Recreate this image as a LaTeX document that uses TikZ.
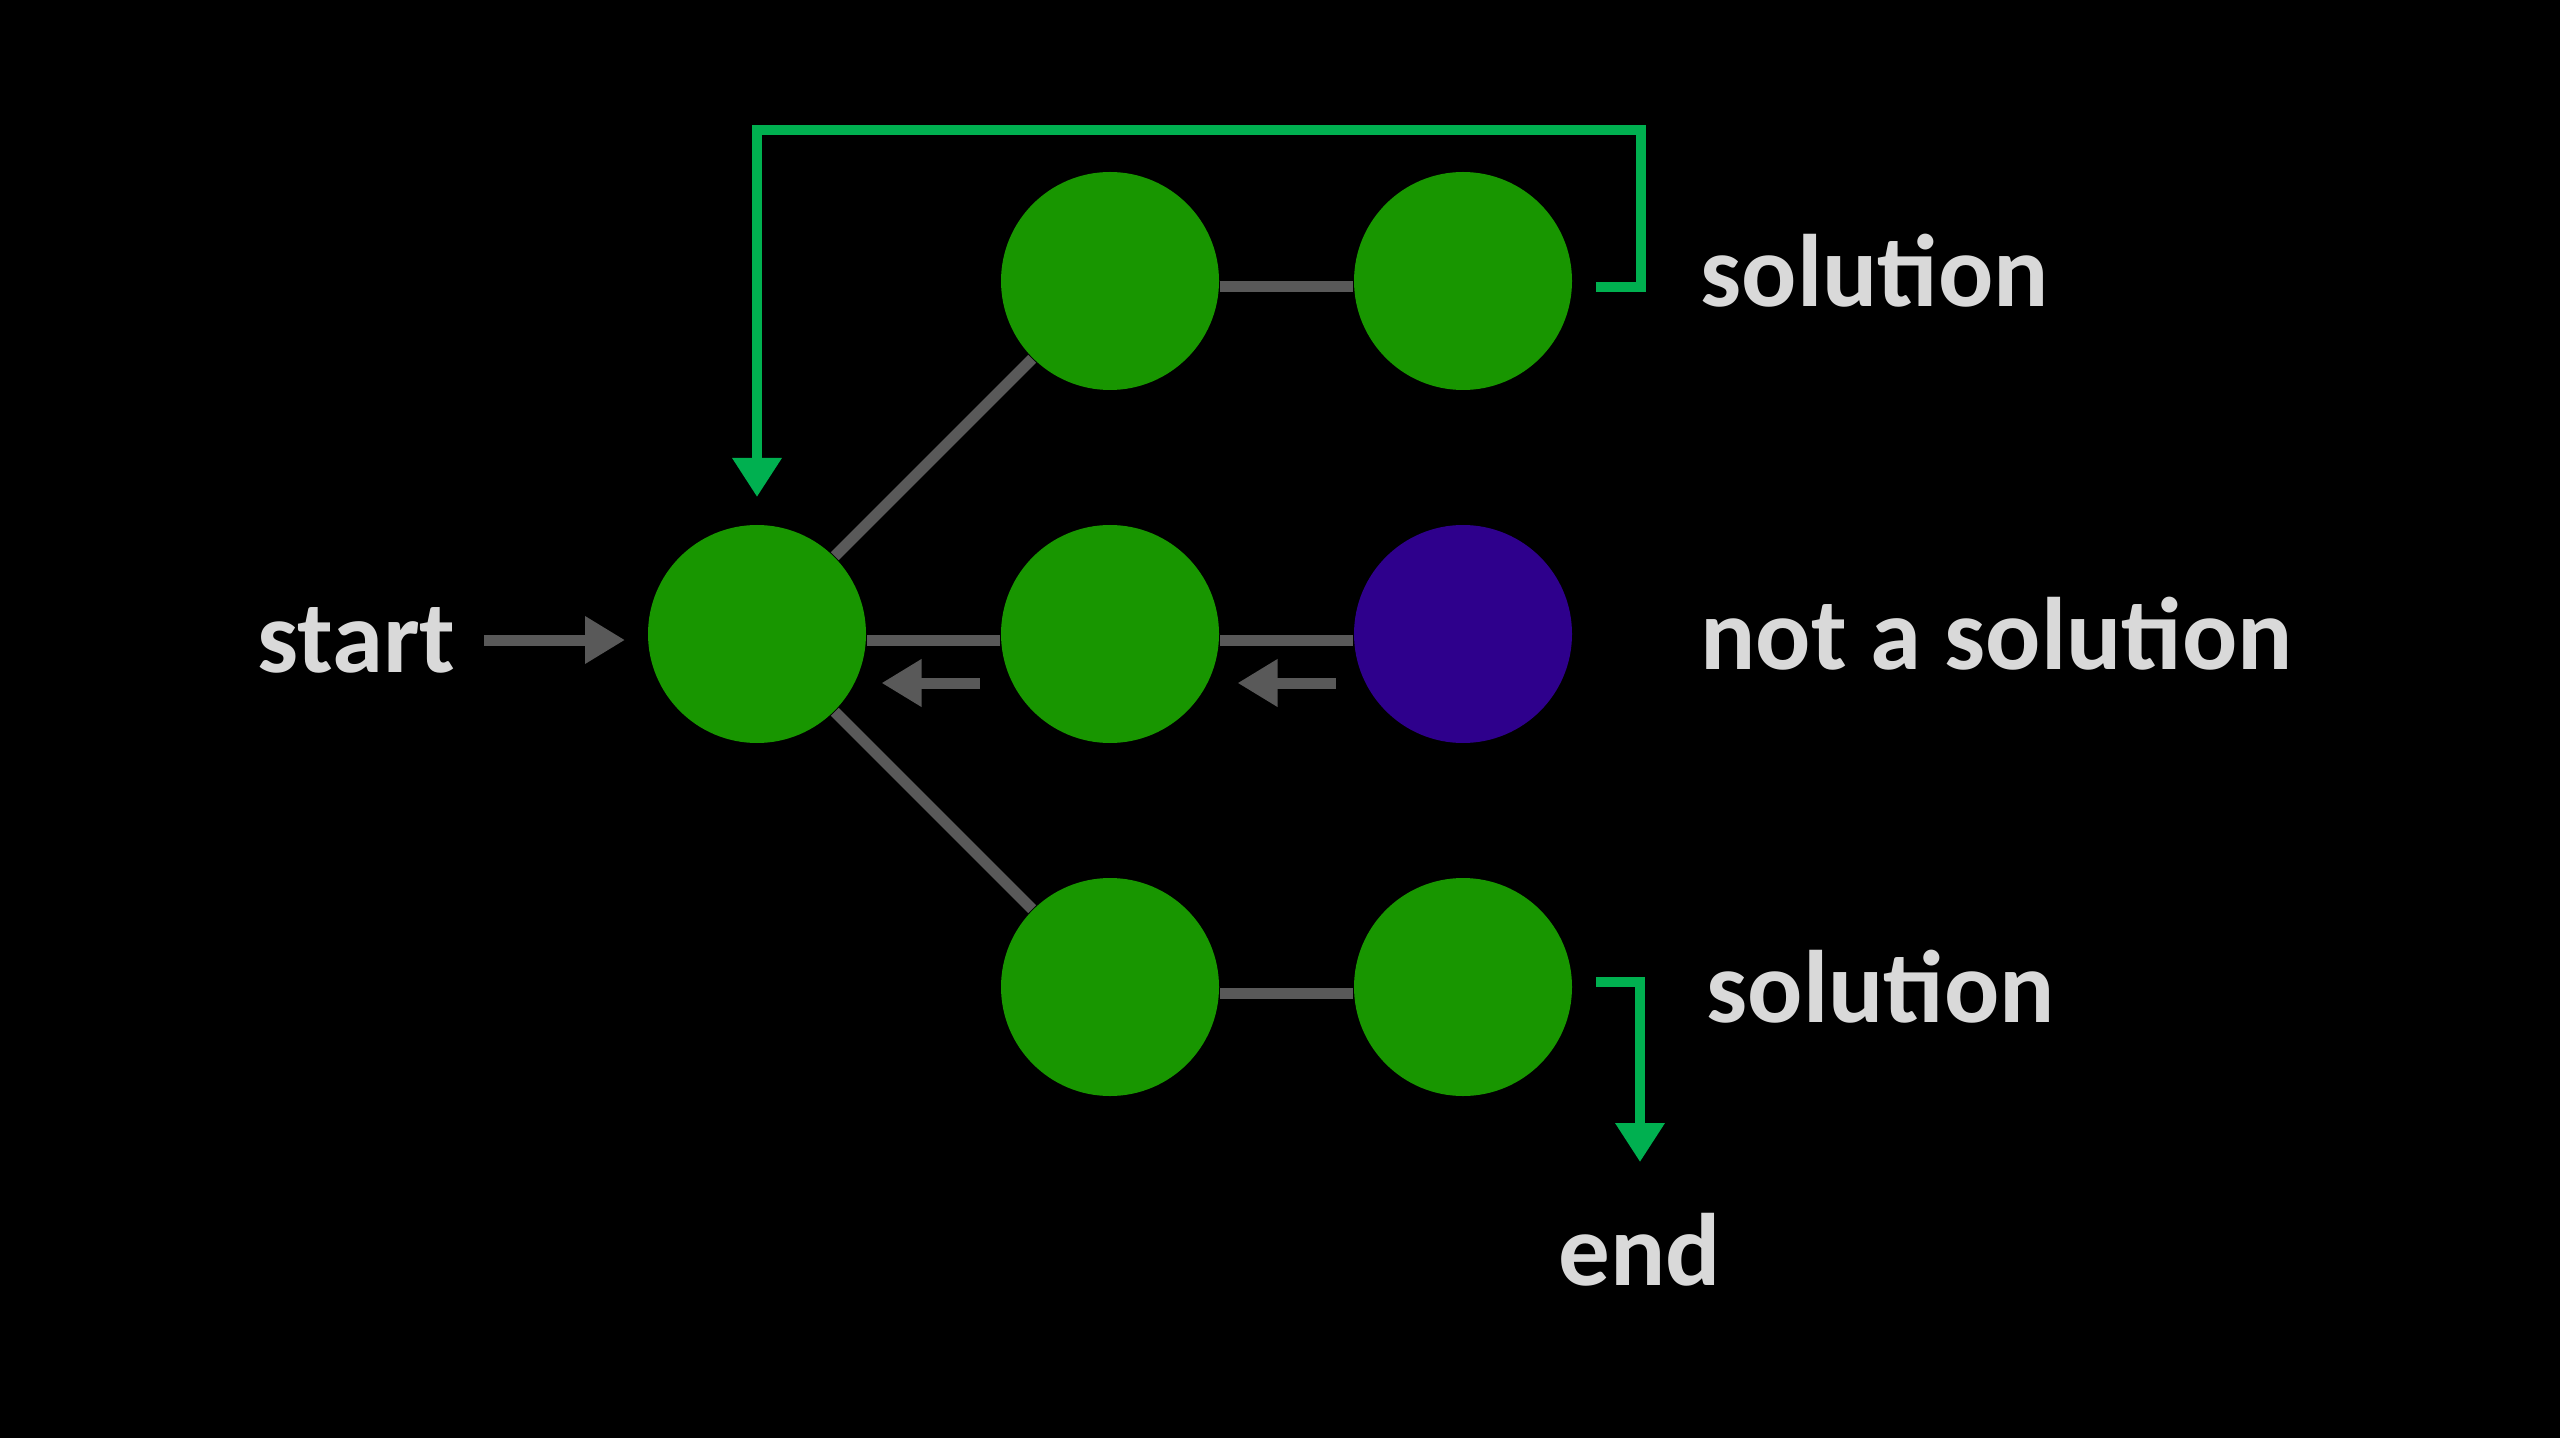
\documentclass[tikz,border=0pt]{standalone}
\usepackage{fontspec}
\setmainfont{Carlito}
\usetikzlibrary{arrows.meta, positioning}

\definecolor{nodegreen}{RGB}{24,150,0}
\definecolor{deadend}{RGB}{46,0,140}
\definecolor{pathgreen}{RGB}{0,176,80}
\definecolor{linkgray}{RGB}{89,89,89}
\definecolor{labelgray}{RGB}{217,217,217}

\begin{document}
\begin{tikzpicture}[
    x=0.2pt, y=-0.2pt,
    font=\fontsize{20.6}{24}\selectfont\bfseries,
    node distance=26.6pt,
    state/.style={
      circle,
      fill=nodegreen,
      minimum size=43.6pt,
      inner sep=0pt
    },
    failed/.style={
      state,
      fill=deadend
    },
    caption/.style={
      text=labelgray,
      inner sep=3.33pt
    },
    link/.style={
      draw=linkgray,
      line width=2.2pt
    },
    linkarrow/.style={
      link,
      -{Triangle[length=8pt, width=9pt]}
    },
    track/.style={
      draw=pathgreen,
      line width=2pt,
      -{Triangle[length=7.8pt, width=9.4pt]}
    }
  ]

    % Black backdrop
    \fill[black] (0,0) rectangle (2560,1438);
    \useasboundingbox (0,0) rectangle (2560,1438);

    % Search tree states
    \node[state] (root) at (757,634) {};
    \node[state, right=of root] (mid1) {};
    \node[failed, right=of mid1] (mid2) {};
    \node[state, above=of mid1] (top1) {};
    \node[state, right=of top1] (top2) {};
    \node[state, below=of mid1] (bot1) {};
    \node[state, right=of bot1] (bot2) {};

    % Labels
    \node[caption, left=34.8pt of root, yshift=-1.2pt] (start) {start};
    \node[caption, right=22pt of top2, yshift=2pt] (topsol) {solution};
    \node[caption, right=22pt of mid2] (nosol) {not a solution};
    \node[caption, right=23.2pt of bot2] (botsol) {solution};
    \node[caption, anchor=base] (finish) at (1640,1285) {end};

    % Tree edges
    \draw[link] (root) -- (top1);
    \draw[link] (root) -- (bot1);
    \draw[link] ([yshift=-1.2pt]root.east) -- ([yshift=-1.2pt]mid1.west);
    \draw[link] ([yshift=-1.2pt]mid1.east) -- ([yshift=-1.2pt]mid2.west);
    \draw[link] ([yshift=-1.2pt]top1.east) -- ([yshift=-1.2pt]top2.west);
    \draw[link] ([yshift=-1.2pt]bot1.east) -- ([yshift=-1.2pt]bot2.west);

    % Entry and backtracking arrows
    \draw[linkarrow, shorten <=2.2pt, shorten >=4.4pt] (start.east) -- (start.east -| root.west);
    \draw[linkarrow, shorten <=4.1pt, shorten >=2.9pt] ([yshift=-9.8pt]mid1.west) -- ([yshift=-9.8pt]root.east);
    \draw[linkarrow, shorten <=3.5pt, shorten >=3.5pt] ([yshift=-9.8pt]mid2.west) -- ([yshift=-9.8pt]mid1.east);

    % Solution paths
    \coordinate (loopcorner) at (1641,130);
    \draw[track, shorten >=5.4pt] ([xshift=4.6pt, yshift=-1.2pt]top2.east) -| (loopcorner) -| (root.north);
    \draw[track, shorten >=6.6pt] ([xshift=4.6pt, yshift=1pt]bot2.east) -| (finish.north);

  \end{tikzpicture}
\end{document}
